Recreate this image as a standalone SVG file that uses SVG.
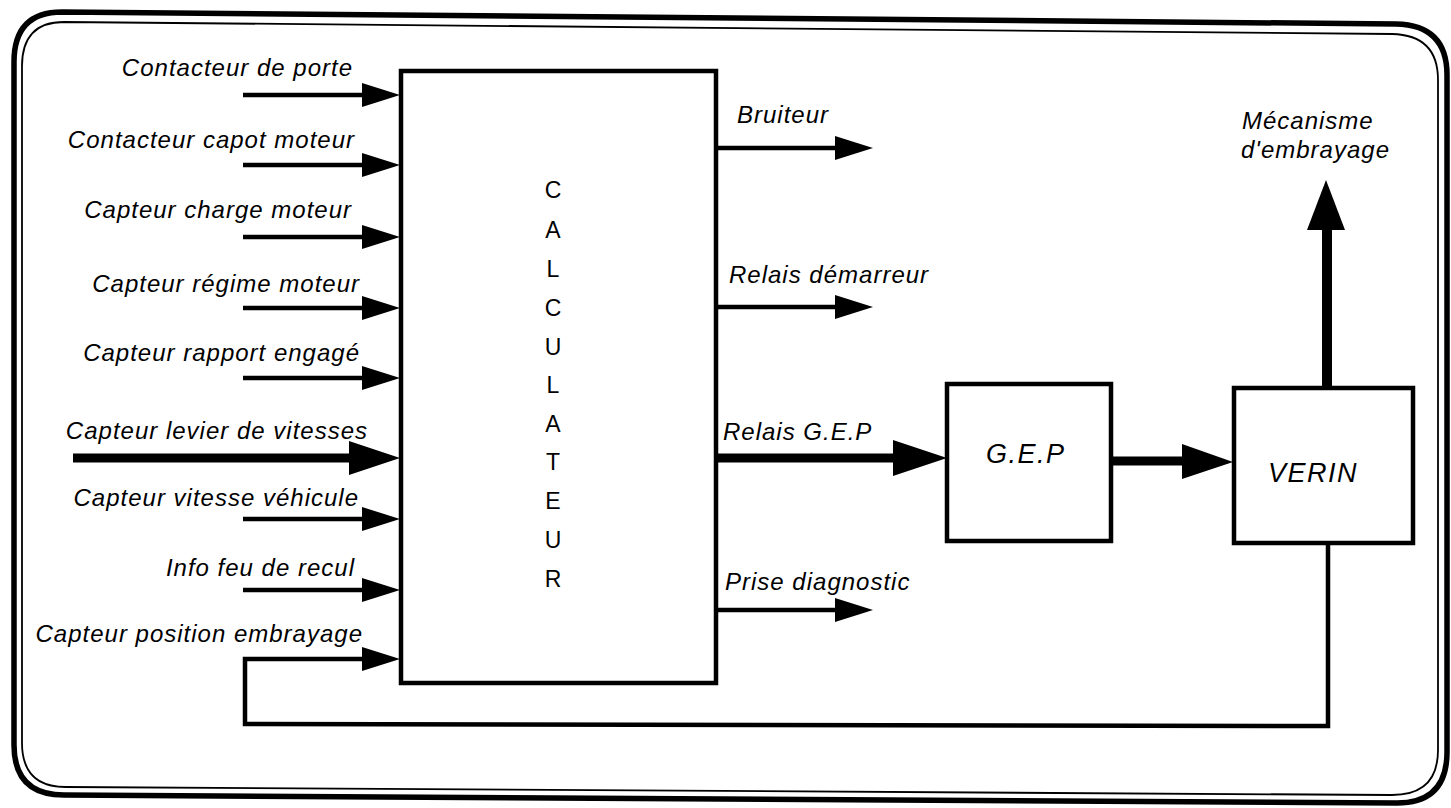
<svg xmlns="http://www.w3.org/2000/svg" width="1451" height="808" viewBox="0 0 1451 808">
<style>
.lbl{font-family:"Liberation Sans",Arial,sans-serif;font-style:italic;font-size:24px;letter-spacing:1px;fill:#000}
.big{font-family:"Liberation Sans",Arial,sans-serif;font-style:italic;font-size:27px;letter-spacing:1.5px;fill:#000}
.vert{font-family:"Liberation Sans",Arial,sans-serif;font-size:23px;fill:#000}
.box{fill:#fff;stroke:#000;stroke-width:4.5}
.ln{fill:none;stroke:#000;stroke-width:4.5}
.thk{fill:none;stroke:#000;stroke-width:9}
.head{fill:#000;stroke:none}
</style>
<rect width="1451" height="808" fill="#fff"/>
<g id="frame">
<path d="M62,12 L1396,24 Q1447,25 1447,75 L1447,752 Q1447,803 1397,803 L64,795 Q14,795 14,745 L14,62 Q14,12 62,12 Z" fill="none" stroke="#000" stroke-width="5.5"/>
<path d="M64,22 L1392,34 Q1438,35 1438,80 L1438,750 Q1438,795 1392,795 L66,787 Q22,787 22,743 L22,66 Q22,22 64,22 Z" fill="none" stroke="#000" stroke-width="1.8"/>
</g>
<g id="connectors">
<line class="ln" x1="243" y1="95" x2="365" y2="95"/><polygon class="head" points="362,83 400,95 362,107"/>
<line class="ln" x1="243" y1="165" x2="365" y2="165"/><polygon class="head" points="362,153 400,165 362,177"/>
<line class="ln" x1="243" y1="237" x2="365" y2="237"/><polygon class="head" points="362,225 400,237 362,249"/>
<line class="ln" x1="243" y1="308" x2="365" y2="308"/><polygon class="head" points="362,296 400,308 362,320"/>
<line class="ln" x1="243" y1="378" x2="365" y2="378"/><polygon class="head" points="362,366 400,378 362,390"/>
<line class="thk" x1="73" y1="458" x2="352" y2="458"/><polygon class="head" points="349,441 400,458 349,475"/>
<line class="ln" x1="243" y1="519" x2="365" y2="519"/><polygon class="head" points="362,507 400,519 362,531"/>
<line class="ln" x1="243" y1="590" x2="365" y2="590"/><polygon class="head" points="362,578 400,590 362,602"/>
<polyline class="ln" points="1328,543 1328,726 245,724 245,659 365,659"/><polygon class="head" points="362,647 400,659 362,671"/>
<line class="ln" x1="716" y1="148" x2="838" y2="148"/><polygon class="head" points="835,136 873,148 835,160"/>
<line class="ln" x1="716" y1="307" x2="838" y2="307"/><polygon class="head" points="835,295 873,307 835,319"/>
<line class="thk" x1="716" y1="458" x2="896" y2="458"/><polygon class="head" points="893,440 947,458 893,476"/>
<line class="ln" x1="716" y1="610" x2="838" y2="610"/><polygon class="head" points="835,598 873,610 835,622"/>
<line class="thk" x1="1111" y1="461" x2="1186" y2="461"/><polygon class="head" points="1182,444 1233,462 1182,479"/>
<line x1="1327" y1="387" x2="1327" y2="226" stroke="#000" stroke-width="10"/><polygon class="head" points="1307,230 1326,180 1345,230"/>
</g>
<g id="calculateur">
<rect class="box" x="401" y="71" width="315" height="612"/>
<text class="vert" text-anchor="middle"><tspan x="553" y="198">C</tspan><tspan x="553" y="238">A</tspan><tspan x="553" y="277">L</tspan><tspan x="553" y="316">C</tspan><tspan x="553" y="355">U</tspan><tspan x="553" y="393">L</tspan><tspan x="553" y="432">A</tspan><tspan x="553" y="470">T</tspan><tspan x="553" y="509">E</tspan><tspan x="553" y="548">U</tspan><tspan x="553" y="587">R</tspan></text>
</g>
<g id="gep">
<rect class="box" x="947" y="384" width="164" height="157"/>
<text class="big" x="986" y="463">G.E.P</text>
</g>
<g id="verin">
<rect class="box" x="1234" y="388" width="179" height="155"/>
<text class="big" x="1268" y="482">VERIN</text>
</g>
<g id="inputs">
<text class="lbl" text-anchor="end" x="353" y="76">Contacteur de porte</text>
<text class="lbl" text-anchor="end" x="355" y="148">Contacteur capot moteur</text>
<text class="lbl" text-anchor="end" x="352" y="218">Capteur charge moteur</text>
<text class="lbl" text-anchor="end" x="360" y="292">Capteur régime moteur</text>
<text class="lbl" text-anchor="end" x="360" y="361">Capteur rapport engagé</text>
<text class="lbl" text-anchor="end" x="368" y="439">Capteur levier de vitesses</text>
<text class="lbl" text-anchor="end" x="359" y="506">Capteur vitesse véhicule</text>
<text class="lbl" text-anchor="end" x="355" y="576">Info feu de recul</text>
<text class="lbl" text-anchor="end" x="363" y="642">Capteur position embrayage</text>
</g>
<g id="outputs">
<text class="lbl" x="737" y="123">Bruiteur</text>
<text class="lbl" x="729" y="283">Relais démarreur</text>
<text class="lbl" x="723" y="440">Relais G.E.P</text>
<text class="lbl" x="725" y="590">Prise diagnostic</text>
</g>
<g id="mecanisme">
<text class="lbl" x="1242" y="129">Mécanisme</text>
<text class="lbl" x="1241" y="158">d'embrayage</text>
</g>
</svg>
